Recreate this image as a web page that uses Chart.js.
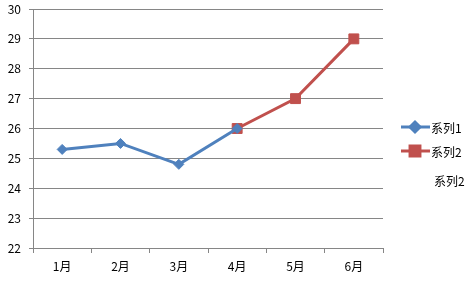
<!DOCTYPE html>
<html>
<head>
<meta charset="utf-8">
<script src="https://cdn.jsdelivr.net/npm/chart.js@4/dist/chart.umd.min.js"></script>
<style>
  html, body { margin: 0; padding: 0; background: #fff; }
  #wrap { position: relative; width: 475px; height: 283px; }
</style>
</head>
<body>
<div id="wrap"><canvas id="chart" width="475" height="283"></canvas></div>
<script>
const months = ['1月', '2月', '3月', '4月', '5月', '6月'];
const series1 = [25.3, 25.5, 24.8, 26.0, null, null];
const series2 = [null, null, null, 26.0, 27.0, 29.0];
const seriesNames = ['系列1', '系列2'];
const yMin = 22, yMax = 30;

const FONT = '"Noto Sans CJK SC", "Liberation Sans", sans-serif';
const GRID = '#868686';

// legend drawn at the right, like the excel one
const sideLegend = {
  id: 'sideLegend',
  afterDraw(chart) {
    const ctx = chart.ctx;
    const rows = [127, 151];
    ctx.save();
    chart.data.datasets.forEach((ds, i) => {
      const y = rows[i];
      ctx.strokeStyle = ds.borderColor;
      ctx.lineWidth = 3;
      ctx.beginPath();
      ctx.moveTo(401, y);
      ctx.lineTo(430, y);
      ctx.stroke();
      Chart.helpers.drawPoint(ctx, {
        pointStyle: ds.pointStyle, radius: ds.pointRadius, borderWidth: 1
      }, 415, y);
      ctx.fillStyle = ds.borderColor;
      ctx.fill();
      ctx.fillStyle = '#000';
      ctx.font = '12px ' + FONT;
      ctx.textBaseline = 'middle';
      ctx.fillText(ds.label, 431, y + 1);
    });
    // leftover label under the legend
    ctx.fillText(seriesNames[1], 434, 181);
    ctx.restore();
  }
};

new Chart(document.getElementById('chart'), {
  type: 'line',
  data: {
    labels: months,
    datasets: [
      {
        label: seriesNames[0],
        data: series1,
        borderColor: '#4F81BD',
        backgroundColor: '#4F81BD',
        borderWidth: 3,
        pointStyle: 'rectRot',
        pointRadius: 5,
        pointBorderWidth: 1,
        tension: 0
      },
      {
        label: seriesNames[1],
        data: series2,
        borderColor: '#C0504D',
        backgroundColor: '#C0504D',
        borderWidth: 3,
        pointStyle: 'rect',
        pointRadius: 7,
        pointBorderWidth: 1,
        tension: 0
      }
    ]
  },
  options: {
    responsive: false,
    animation: false,
    layout: { padding: { top: 9, right: 92, left: 0, bottom: 0 } },
    plugins: {
      legend: { display: false },
      tooltip: { enabled: false }
    },
    scales: {
      x: {
        offset: true,
        afterFit: s => { s.height = 35; },
        grid: { offset: true, drawOnChartArea: false, drawTicks: true, tickLength: 5, color: GRID },
        border: { color: GRID, width: 1 },
        ticks: { color: '#000', font: { family: FONT, size: 12 }, padding: 6, maxRotation: 0 }
      },
      y: {
        min: yMin,
        max: yMax,
        afterFit: s => { s.width = 33; s.paddingTop = 0; s.paddingBottom = 0; },
        grid: { color: GRID, drawTicks: true, tickLength: 4 },
        border: { color: GRID, width: 1 },
        ticks: { stepSize: 1, color: '#000', font: { family: FONT, size: 12 }, padding: 8 }
      }
    }
  },
  plugins: [sideLegend]
});
</script>
</body>
</html>
